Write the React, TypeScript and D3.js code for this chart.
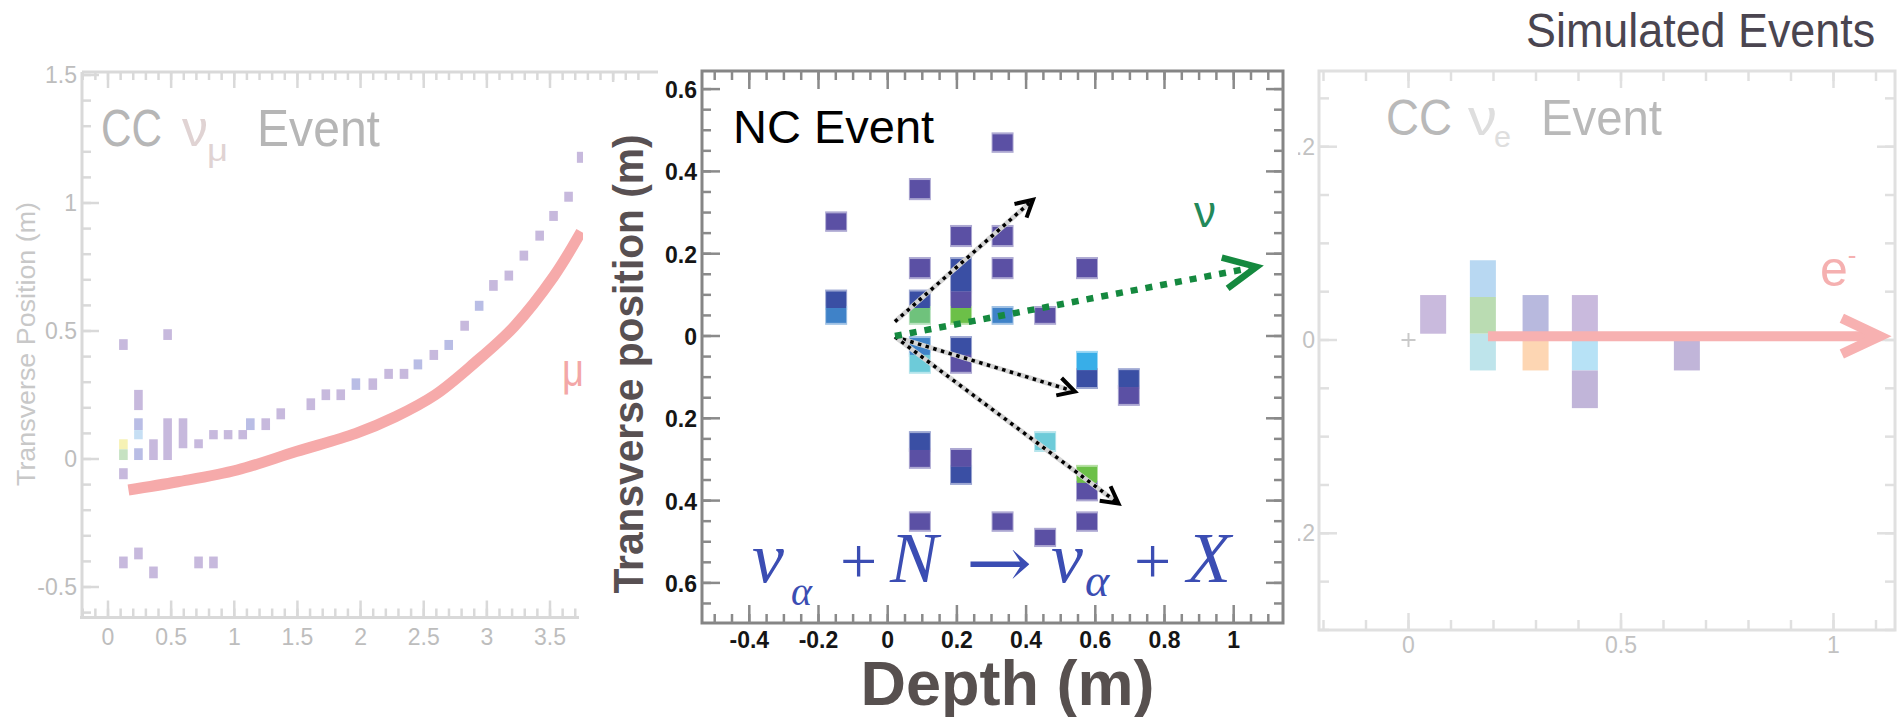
import React from "react";
import * as d3 from "d3";

const W = 1897;
const H = 717;
const SANS = "'Liberation Sans', Arial, sans-serif";
const SERIF = "'Liberation Serif', 'DejaVu Serif', serif";

// ---------------- Left panel: CC nu_mu event ----------------
const muTrackDepth = [0.162, 0.554, 1.023, 1.49, 1.963, 2.276, 2.589, 2.9, 3.215, 3.528, 3.747];
const muTrackPos = [-0.121, -0.089, -0.043, 0.029, 0.1, 0.165, 0.25, 0.374, 0.517, 0.712, 0.888];
// [depth, top, bottom, colour]
const ccMuHits: [number, number, number, string][] = [
  [0.122, 0.468, 0.426, "p"], [0.122, 0.077, 0.038, "y"], [0.122, 0.038, -0.004, "g"],
  [0.122, -0.036, -0.079, "p"], [0.122, -0.381, -0.427, "p"],
  [0.241, 0.27, 0.191, "p"], [0.241, 0.159, 0.113, "b"], [0.241, 0.113, 0.077, "l"],
  [0.241, 0.042, -0.004, "b"], [0.241, -0.346, -0.392, "p"],
  [0.36, 0.077, -0.004, "p"], [0.36, -0.42, -0.466, "p"],
  [0.472, 0.507, 0.465, "p"], [0.472, 0.159, -0.004, "p"],
  [0.594, 0.159, 0.042, "p"],
  [0.717, 0.077, 0.042, "p"], [0.717, -0.381, -0.427, "p"],
  [0.835, 0.113, 0.077, "p"], [0.835, -0.381, -0.427, "p"],
  [0.951, 0.113, 0.077, "p"], [1.067, 0.113, 0.077, "p"],
  [1.127, 0.159, 0.113, "b"], [1.249, 0.159, 0.113, "p"], [1.368, 0.198, 0.155, "p"],
  [1.606, 0.237, 0.191, "p"], [1.725, 0.272, 0.23, "p"], [1.843, 0.272, 0.23, "p"],
  [1.963, 0.315, 0.27, "b"], [2.097, 0.315, 0.27, "p"], [2.222, 0.352, 0.313, "p"],
  [2.344, 0.352, 0.313, "p"], [2.454, 0.389, 0.35, "b"], [2.58, 0.426, 0.387, "p"],
  [2.698, 0.465, 0.426, "b"], [2.824, 0.54, 0.501, "p"], [2.939, 0.618, 0.579, "b"],
  [3.052, 0.699, 0.657, "p"], [3.174, 0.736, 0.697, "p"], [3.293, 0.814, 0.775, "p"],
  [3.418, 0.892, 0.853, "p"], [3.528, 0.969, 0.93, "p"], [3.647, 1.044, 1.005, "p"],
  [3.747, 1.2, 1.157, "p"],
];
const ccMuColors: Record<string, string> = {
  p: "#c7b9dd", b: "#b9bde5", l: "#c6dff4", y: "#f6f2b4", g: "#c6e2c2",
};
const leftXMajor = [0, 0.5, 1, 1.5, 2, 2.5, 3, 3.5];
const leftXLabels = ["0", "0.5", "1", "1.5", "2", "2.5", "3", "3.5"];
const leftYMajor = [-0.5, 0, 0.5, 1, 1.5];
const leftYLabels = ["-0.5", "0", "0.5", "1", "1.5"];

// ---------------- Middle panel: NC event ----------------
// [depth, top, bottom, colour]
const ncHits: [number, number, number, string][] = [
  [-0.149, 0.298, 0.258, "p"], [-0.149, 0.108, 0.068, "d"], [-0.149, 0.068, 0.032, "m"],
  [0.093, 0.379, 0.335, "p"], [0.093, 0.187, 0.143, "p"], [0.093, 0.108, 0.068, "d"],
  [0.093, 0.068, 0.032, "lg"], [0.093, -0.005, -0.046, "m"], [0.093, -0.046, -0.087, "c"],
  [0.093, -0.236, -0.277, "d"], [0.093, -0.277, -0.318, "p"], [0.093, -0.431, -0.471, "p"],
  [0.212, 0.265, 0.221, "p"], [0.212, 0.187, 0.108, "d"], [0.212, 0.108, 0.068, "p"],
  [0.212, 0.068, 0.032, "g"], [0.212, -0.005, -0.046, "d"], [0.212, -0.046, -0.087, "p"],
  [0.212, -0.277, -0.318, "p"], [0.212, -0.318, -0.357, "d"],
  [0.332, 0.49, 0.45, "p"], [0.332, 0.265, 0.221, "p"], [0.332, 0.187, 0.143, "p"],
  [0.332, 0.068, 0.032, "m"], [0.332, -0.431, -0.471, "p"],
  [0.455, 0.068, 0.032, "p"], [0.455, -0.236, -0.277, "c"], [0.455, -0.471, -0.508, "p"],
  [0.576, 0.187, 0.143, "p"], [0.576, -0.041, -0.083, "s"], [0.576, -0.083, -0.124, "d"],
  [0.576, -0.318, -0.357, "g"], [0.576, -0.357, -0.397, "p"], [0.576, -0.431, -0.471, "p"],
  [0.697, -0.083, -0.124, "d"], [0.697, -0.124, -0.165, "p"],
];
const ncColors: Record<string, string> = {
  p: "#5b50a4", d: "#3a4fa4", m: "#3f82c8", c: "#6dcbd9", lg: "#6fc27c", g: "#6cc048", s: "#38aee8",
};
// photon-like tracks [x0, y0, x1, y1]
const blackTracks: [number, number, number, number][] = [
  [0.021, 0.035, 0.42, 0.331],
  [0.021, -0.002, 0.541, -0.135],
  [0.021, -0.002, 0.667, -0.407],
];
const nuTrack: [number, number, number, number] = [0.021, 0.0, 1.066, 0.168];
const midXMajor = [-0.4, -0.2, 0, 0.2, 0.4, 0.6, 0.8, 1];
const midXLabels = ["-0.4", "-0.2", "0", "0.2", "0.4", "0.6", "0.8", "1"];
const midYMajor = [0.6, 0.4, 0.2, 0, -0.2, -0.4, -0.6];
const midYLabels = ["0.6", "0.4", "0.2", "0", "0.2", "0.4", "0.6"];

// ---------------- Right panel: CC nu_e event ----------------
const ccEHits: [number, number, number, string][] = [
  [0.058, 0.0465, 0.0065, "p"],
  [0.175, 0.0825, 0.0445, "l"], [0.175, 0.0445, 0.0065, "g"], [0.175, 0.0065, -0.0315, "c"],
  [0.299, 0.0465, 0.0045, "v"], [0.299, 0.0045, -0.0315, "o"],
  [0.415, 0.0465, 0.0065, "p"], [0.415, 0.0065, -0.0315, "s"], [0.415, -0.0315, -0.0705, "q"],
  [0.655, 0.0045, -0.0315, "q"],
];
const ccEColors: Record<string, string> = {
  p: "#c9badd", l: "#b8d8f2", g: "#badcb2", c: "#bee4eb", v: "#b8b9de", o: "#fdd6b3", s: "#b7e2f6", q: "#c1b5d9",
};
const electronTrack: [number, number, number, number] = [0.187, 0.004, 1.109, 0.004];
const rightXMajor = [0, 0.5, 1];
const rightXLabels = ["0", "0.5", "1"];
const rightYMajor = [0.2, 0, -0.2];
const rightYLabels = ["0.2", "0", "-0.2"];

// ---------------- scales ----------------
const xL = d3.scaleLinear().domain([0, 3.5]).range([108, 550]);
const yL = d3.scaleLinear().domain([0, 1]).range([459, 203]);
const xM = d3.scaleLinear().domain([0, 1]).range([887.7, 1233.7]);
const yM = d3.scaleLinear().domain([0, 0.6]).range([336, 89.1]);
const xR = d3.scaleLinear().domain([0, 1]).range([1408.5, 1833.5]);
const yR = d3.scaleLinear().domain([0, 0.2]).range([340, 146.7]);

const LF = { x0: 82, x1: 579, topEnd: 658, top: 72, bottom: 617.5, clip: 583 };
const MF = { x0: 702, x1: 1283, top: 71, bottom: 623 };
const RF = { x0: 1319, x1: 1895, top: 71, bottom: 630 };

const steps = (a: number, b: number, s: number) =>
  d3.range(Math.round((b - a) / s) + 1).map((i) => +(a + i * s).toFixed(4));

function chevron(x0: number, y0: number, x1: number, y1: number, len: number, spread: number) {
  const a = Math.atan2(y1 - y0, x1 - x0) + Math.PI;
  const p1 = [x1 + len * Math.cos(a - spread), y1 + len * Math.sin(a - spread)];
  const p2 = [x1 + len * Math.cos(a + spread), y1 + len * Math.sin(a + spread)];
  return `M${p1[0]},${p1[1]}L${x1},${y1}L${p2[0]},${p2[1]}`;
}

function shorten(x0: number, y0: number, x1: number, y1: number, d: number) {
  const L = Math.hypot(x1 - x0, y1 - y0);
  return [x1 - ((x1 - x0) / L) * d, y1 - ((y1 - y0) / L) * d];
}

export default function App() {
  const muLine = d3
    .line<number>()
    .x((_, i) => xL(muTrackDepth[i]))
    .y((_, i) => yL(muTrackPos[i]))
    .curve(d3.curveCatmullRom.alpha(0.5));

  const leftMinorX = steps(-0.2, 3.7, 0.1);
  const leftTopMinorX = steps(-0.2, 4.2, 0.1);
  const leftTopMajorX = [0, 0.5, 1, 1.5, 2, 2.5, 3, 3.5, 4];
  const leftMinorY = steps(-0.6, 1.5, 0.1);

  const midMinorX = steps(-0.5, 1.1, 0.05);
  const midMinorY = steps(-0.65, 0.6, 0.05);

  const rightMinorX = steps(-0.2, 1.1, 0.1);
  const rightMinorY = steps(-0.3, 0.25, 0.05);

  const lTick = "#d9d9d9";
  const rTick = "#e0e0e0";
  const mTick = "#8a8a8a";

  return (
    <svg
      width={W}
      height={H}
      viewBox={`0 0 ${W} ${H}`}
      style={{ position: "absolute", left: 0, top: 0, background: "#fff" }}
    >
      <defs>
        <clipPath id="leftClip">
          <rect x={0} y={0} width={LF.clip} height={H} />
        </clipPath>
      </defs>
      <rect x={0} y={0} width={W} height={H} fill="#fff" />

      {/* ================= LEFT PANEL ================= */}
      <g>
        <line x1={LF.x0} y1={LF.top} x2={LF.x0} y2={LF.bottom} stroke={lTick} strokeWidth={3} />
        <line x1={LF.x0 - 2} y1={LF.bottom} x2={LF.x1} y2={LF.bottom} stroke={lTick} strokeWidth={3} />
        <line x1={LF.x0} y1={LF.top} x2={LF.topEnd} y2={LF.top} stroke={lTick} strokeWidth={3} />
        {leftMinorX.map((v) => (
          <line key={"lbx" + v} x1={xL(v)} x2={xL(v)} y1={LF.bottom} y2={LF.bottom - 9} stroke={lTick} strokeWidth={2.5} />
        ))}
        {leftXMajor.map((v) => (
          <line key={"lbX" + v} x1={xL(v)} x2={xL(v)} y1={LF.bottom} y2={LF.bottom - 17} stroke={lTick} strokeWidth={2.5} />
        ))}
        {leftTopMinorX.map((v) => (
          <line key={"ltx" + v} x1={xL(v)} x2={xL(v)} y1={LF.top} y2={LF.top + 8} stroke={lTick} strokeWidth={2.5} />
        ))}
        {leftTopMajorX.map((v) => (
          <line key={"ltX" + v} x1={xL(v)} x2={xL(v)} y1={LF.top} y2={LF.top + 16} stroke={lTick} strokeWidth={2.5} />
        ))}
        {leftMinorY.map((v) => (
          <line key={"lly" + v} x1={LF.x0} x2={LF.x0 + 9} y1={yL(v)} y2={yL(v)} stroke={lTick} strokeWidth={2.5} />
        ))}
        {leftYMajor.map((v) => (
          <line key={"llY" + v} x1={LF.x0} x2={LF.x0 + 17} y1={yL(v)} y2={yL(v)} stroke={lTick} strokeWidth={2.5} />
        ))}
        {leftXMajor.map((v, i) => (
          <text key={"lxl" + v} x={xL(v)} y={645} textAnchor="middle" fontFamily={SANS} fontSize={23} fill="#bdbdbd">
            {leftXLabels[i]}
          </text>
        ))}
        {leftYMajor.map((v, i) => (
          <text key={"lyl" + v} x={77} y={yL(v) + 8} textAnchor="end" fontFamily={SANS} fontSize={23} fill="#bdbdbd">
            {leftYLabels[i]}
          </text>
        ))}
        <text
          transform="translate(35,344) rotate(-90)"
          textAnchor="middle"
          fontFamily={SANS}
          fontSize={26}
          fill="#c8c8c8"
          textLength={284}
          lengthAdjust="spacingAndGlyphs"
        >
          Transverse Position (m)
        </text>

        <text x={101} y={146} fontFamily={SANS} fontSize={52} fill="#b6b6b6" textLength={61} lengthAdjust="spacingAndGlyphs">CC</text>
        <text x={182} y={146} fontFamily={SANS} fontSize={52} fill="#e0d3d3" textLength={26} lengthAdjust="spacingAndGlyphs">ν</text>
        <text x={207} y={161} fontFamily={SANS} fontSize={32} fill="#e0d3d3" textLength={21} lengthAdjust="spacingAndGlyphs">μ</text>
        <text x={257} y={146} fontFamily={SANS} fontSize={52} fill="#b6b6b6" textLength={123} lengthAdjust="spacingAndGlyphs">Event</text>

        <g clipPath="url(#leftClip)">
          <path d={muLine(muTrackDepth) || ""} fill="none" stroke="#f6aaaa" strokeWidth={11} strokeLinecap="butt" />
          {ccMuHits.map((h, i) => (
            <rect
              key={"lh" + i}
              x={xL(h[0]) - 4.3}
              y={yL(h[1])}
              width={8.6}
              height={yL(h[2]) - yL(h[1])}
              fill={ccMuColors[h[3]]}
            />
          ))}
          <text x={562} y={386} fontFamily={SANS} fontSize={46} fill="#f3a7a7" textLength={22} lengthAdjust="spacingAndGlyphs">μ</text>
        </g>
      </g>

      {/* ================= RIGHT PANEL ================= */}
      <g>
        <rect x={RF.x0} y={RF.top} width={RF.x1 - RF.x0} height={RF.bottom - RF.top} fill="none" stroke={rTick} strokeWidth={3} />
        {rightMinorX.map((v) => (
          <g key={"rx" + v}>
            <line x1={xR(v)} x2={xR(v)} y1={RF.bottom} y2={RF.bottom - 10} stroke={rTick} strokeWidth={2.5} />
            <line x1={xR(v)} x2={xR(v)} y1={RF.top} y2={RF.top + 10} stroke={rTick} strokeWidth={2.5} />
          </g>
        ))}
        {rightXMajor.map((v) => (
          <g key={"rX" + v}>
            <line x1={xR(v)} x2={xR(v)} y1={RF.bottom} y2={RF.bottom - 17} stroke={rTick} strokeWidth={2.5} />
            <line x1={xR(v)} x2={xR(v)} y1={RF.top} y2={RF.top + 17} stroke={rTick} strokeWidth={2.5} />
          </g>
        ))}
        {rightMinorY.map((v) => (
          <g key={"ry" + v}>
            <line x1={RF.x0} x2={RF.x0 + 10} y1={yR(v)} y2={yR(v)} stroke={rTick} strokeWidth={2.5} />
            <line x1={RF.x1} x2={RF.x1 - 10} y1={yR(v)} y2={yR(v)} stroke={rTick} strokeWidth={2.5} />
          </g>
        ))}
        {rightYMajor.map((v) => (
          <g key={"rY" + v}>
            <line x1={RF.x0} x2={RF.x0 + 18} y1={yR(v)} y2={yR(v)} stroke={rTick} strokeWidth={2.5} />
            <line x1={RF.x1} x2={RF.x1 - 18} y1={yR(v)} y2={yR(v)} stroke={rTick} strokeWidth={2.5} />
          </g>
        ))}
        {rightXMajor.map((v, i) => (
          <text key={"rxl" + v} x={xR(v)} y={653} textAnchor="middle" fontFamily={SANS} fontSize={23} fill="#c2c2c2">
            {rightXLabels[i]}
          </text>
        ))}
        {rightYMajor.map((v, i) => (
          <text key={"ryl" + v} x={1315} y={yR(v) + 8} textAnchor="end" fontFamily={SANS} fontSize={23} fill="#c2c2c2">
            {rightYLabels[i]}
          </text>
        ))}

        <text x={1386} y={135} fontFamily={SANS} fontSize={50} fill="#b9b9b9" textLength={66} lengthAdjust="spacingAndGlyphs">CC</text>
        <text x={1468} y={135} fontFamily={SANS} fontSize={50} fill="#dedede" textLength={29} lengthAdjust="spacingAndGlyphs">ν</text>
        <text x={1494} y={147} fontFamily={SANS} fontSize={30} fill="#dedede" textLength={17} lengthAdjust="spacingAndGlyphs">e</text>
        <text x={1541} y={135} fontFamily={SANS} fontSize={50} fill="#b9b9b9" textLength={121} lengthAdjust="spacingAndGlyphs">Event</text>

        {ccEHits.map((h, i) => (
          <rect
            key={"rh" + i}
            x={xR(h[0]) - 13}
            y={yR(h[1])}
            width={26}
            height={yR(h[2]) - yR(h[1])}
            fill={ccEColors[h[3]]}
          />
        ))}
        <line x1={xR(0) - 7} x2={xR(0) + 7} y1={yR(0)} y2={yR(0)} stroke="#c9c9c9" strokeWidth={2} />
        <line x1={xR(0)} x2={xR(0)} y1={yR(0) - 7} y2={yR(0) + 7} stroke="#c9c9c9" strokeWidth={2} />
        {(() => {
          const [a, b, c, d] = electronTrack;
          const x0 = xR(a), y0 = yR(b), x1 = xR(c), y1 = yR(d);
          const [sx, sy] = shorten(x0, y0, x1, y1, 6);
          return (
            <g>
              <line x1={x0} y1={y0} x2={sx} y2={sy} stroke="#f7b1b1" strokeWidth={10} />
              <path d={chevron(x0, y0, x1, y1, 42, 0.44)} fill="none" stroke="#f7b1b1" strokeWidth={10} strokeLinejoin="miter" />
            </g>
          );
        })()}
        <text x={1820} y={286} fontFamily={SANS} fontSize={50} fill="#f5b0b0">
          e<tspan fontSize={26} dy={-22}>-</tspan>
        </text>
      </g>

      <g transform="translate(1526,47) scale(0.9,1)">
        <text x={0} y={0} fontFamily={SANS} fontSize={48} fill="#4a4550" textLength={388} lengthAdjust="spacingAndGlyphs">
          Simulated Events
        </text>
      </g>

      {/* ================= MIDDLE PANEL ================= */}
      <rect x={LF.clip} y={82} width={1298 - LF.clip} height={H - 82} fill="#fff" />
      <rect x={660} y={0} width={1298 - 660} height={82} fill="#fff" />
      <g>
        <rect x={MF.x0} y={MF.top} width={MF.x1 - MF.x0} height={MF.bottom - MF.top} fill="none" stroke="#858585" strokeWidth={3} />
        {midMinorX.map((v) => (
          <g key={"mx" + v}>
            <line x1={xM(v)} x2={xM(v)} y1={MF.bottom} y2={MF.bottom - 9} stroke={mTick} strokeWidth={2.5} />
            <line x1={xM(v)} x2={xM(v)} y1={MF.top} y2={MF.top + 9} stroke={mTick} strokeWidth={2.5} />
          </g>
        ))}
        {midXMajor.map((v) => (
          <g key={"mX" + v}>
            <line x1={xM(v)} x2={xM(v)} y1={MF.bottom} y2={MF.bottom - 18} stroke={mTick} strokeWidth={2.5} />
            <line x1={xM(v)} x2={xM(v)} y1={MF.top} y2={MF.top + 18} stroke={mTick} strokeWidth={2.5} />
          </g>
        ))}
        {midMinorY.map((v) => (
          <g key={"my" + v}>
            <line x1={MF.x0} x2={MF.x0 + 9} y1={yM(v)} y2={yM(v)} stroke={mTick} strokeWidth={2.5} />
            <line x1={MF.x1} x2={MF.x1 - 9} y1={yM(v)} y2={yM(v)} stroke={mTick} strokeWidth={2.5} />
          </g>
        ))}
        {midYMajor.map((v) => (
          <g key={"mY" + v}>
            <line x1={MF.x0} x2={MF.x0 + 18} y1={yM(v)} y2={yM(v)} stroke={mTick} strokeWidth={2.5} />
            <line x1={MF.x1} x2={MF.x1 - 17} y1={yM(v)} y2={yM(v)} stroke={mTick} strokeWidth={2.5} />
          </g>
        ))}
        {midXMajor.map((v, i) => (
          <text key={"mxl" + v} x={xM(v)} y={648} textAnchor="middle" fontFamily={SANS} fontWeight="bold" fontSize={23} fill="#151515">
            {midXLabels[i]}
          </text>
        ))}
        {midYMajor.map((v, i) => (
          <text key={"myl" + v} x={697} y={yM(v) + 9} textAnchor="end" fontFamily={SANS} fontWeight="bold" fontSize={23} fill="#151515">
            {midYLabels[i]}
          </text>
        ))}
        <text
          transform="translate(643,364) rotate(-90)"
          textAnchor="middle"
          fontFamily={SANS}
          fontWeight="bold"
          fontSize={42}
          fill="#585052"
          textLength={459}
          lengthAdjust="spacingAndGlyphs"
        >
          Transverse position (m)
        </text>
        <text x={1007.5} y={705} textAnchor="middle" fontFamily={SANS} fontWeight="bold" fontSize={63} fill="#57504f">
          Depth (m)
        </text>
        <text x={733} y={143} fontFamily={SANS} fontSize={47} fill="#000">
          NC Event
        </text>

        {/* light halos first, then the cells, so stacked cells join */}
        {ncHits.map((h, i) => (
          <rect
            key={"mhh" + i}
            x={xM(h[0]) - 11}
            y={yM(h[1]) - 2}
            width={22}
            height={yM(h[2]) - yM(h[1]) + 4}
            fill={d3.interpolateRgb(ncColors[h[3]], "#ffffff")(0.5)}
          />
        ))}
        {ncHits.map((h, i) => (
          <rect
            key={"mh" + i}
            x={xM(h[0]) - 10}
            y={yM(h[1])}
            width={20}
            height={yM(h[2]) - yM(h[1])}
            fill={ncColors[h[3]]}
          />
        ))}

        {blackTracks.map((t, i) => {
          const x0 = xM(t[0]), y0 = yM(t[1]), x1 = xM(t[2]), y1 = yM(t[3]);
          const [sx, sy] = shorten(x0, y0, x1, y1, 3);
          return (
            <g key={"bt" + i}>
              <line x1={x0} y1={y0} x2={sx} y2={sy} stroke="#d4d4d4" strokeWidth={5} />
              <line x1={x0} y1={y0} x2={sx} y2={sy} stroke="#000" strokeWidth={3.5} strokeDasharray="3.5 4.5" />
              <path d={chevron(x0, y0, x1, y1, 19, 0.5)} fill="none" stroke="#000" strokeWidth={4} />
            </g>
          );
        })}
        {(() => {
          const [a, b, c, d] = nuTrack;
          const x0 = xM(a), y0 = yM(b), x1 = xM(c), y1 = yM(d);
          const [sx, sy] = shorten(x0, y0, x1, y1, 6);
          return (
            <g>
              <line x1={x0} y1={y0} x2={sx} y2={sy} stroke="#15893f" strokeWidth={6.5} strokeDasharray="7 8" />
              <path d={chevron(x0, y0, x1, y1, 36, 0.45)} fill="none" stroke="#15893f" strokeWidth={6.5} />
            </g>
          );
        })()}
        <text x={1194} y={227} fontFamily={SANS} fontSize={44} fill="#23895a">ν</text>

        {/* reaction formula */}
        <text fontFamily={SERIF} fill="#3b4db3" fontSize={72}>
          <tspan x={752} y={582} fontStyle="italic">ν</tspan>
          <tspan x={791} y={605} fontSize={40} fontStyle="italic">α</tspan>
          <tspan x={840} y={583} fontSize={66}>+</tspan>
          <tspan x={890} y={582} fontStyle="italic">N</tspan>
        </text>
        <text
          x={966}
          y={587}
          fontSize={70}
          fontFamily="'DejaVu Serif', serif"
          fill="#3b4db3"
          textLength={66}
          lengthAdjust="spacingAndGlyphs"
        >
          →
        </text>
        <text fontFamily={SERIF} fill="#3b4db3" fontSize={72}>
          <tspan x={1051} y={582} fontStyle="italic">ν</tspan>
          <tspan x={1085} y={596} fontSize={46} fontStyle="italic">α</tspan>
          <tspan x={1134} y={583} fontSize={66}>+</tspan>
          <tspan x={1187} y={582} fontStyle="italic">X</tspan>
        </text>
      </g>
    </svg>
  );
}
